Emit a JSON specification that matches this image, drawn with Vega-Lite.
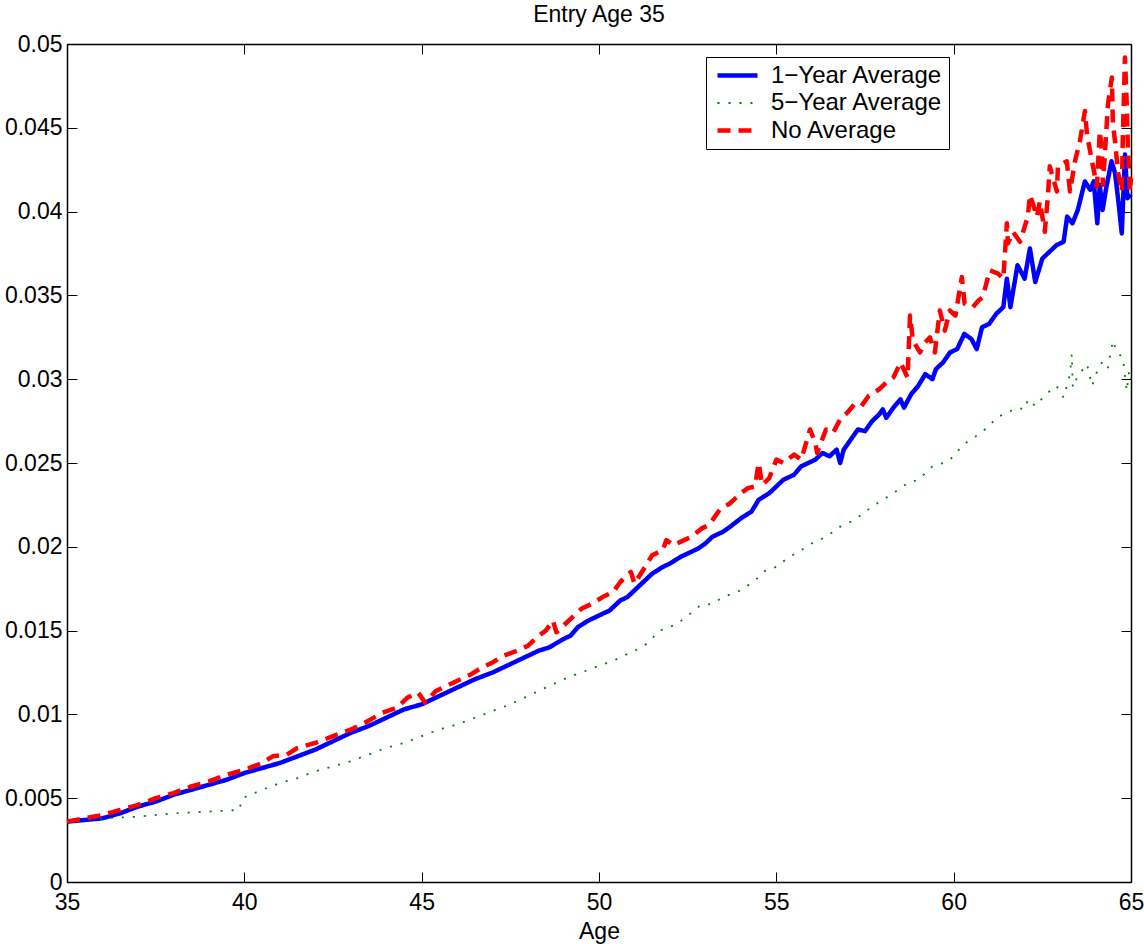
{
  "$schema": "https://vega.github.io/schema/vega-lite/v6.json",
  "width": 1064,
  "height": 838,
  "autosize": {"type": "none"},
  "padding": {"left": 67, "top": 44, "right": 13, "bottom": 62},
  "background": "white",
  "title": {"text": "Entry Age 35", "fontSize": 23, "font": "Liberation Sans", "fontWeight": "normal", "color": "black", "offset": 6, "anchor": "middle"},
  "config": {
    "view": {"stroke": null},
    "font": "Liberation Sans",
    "axis": {
      "domainColor": "black", "domainWidth": 1.5, "tickColor": "black", "tickWidth": 1, "tickSize": -10,
      "labelColor": "black", "labelFontSize": 23, "labelFont": "Liberation Sans", "labelPadding": 10,
      "titleColor": "black", "titleFontSize": 23, "titleFont": "Liberation Sans", "titleFontWeight": "normal",
      "grid": false, "labelFlush": false, "labelOverlap": false
    }
  },
  "data": {"values": [
    {"age":35.0,"series":"1−Year Average","rate":0.0036},
    {"age":35.5,"series":"1−Year Average","rate":0.0037},
    {"age":36.0,"series":"1−Year Average","rate":0.0038},
    {"age":36.5,"series":"1−Year Average","rate":0.0041},
    {"age":37.0,"series":"1−Year Average","rate":0.0045},
    {"age":37.5,"series":"1−Year Average","rate":0.0048},
    {"age":38.0,"series":"1−Year Average","rate":0.0052},
    {"age":38.5,"series":"1−Year Average","rate":0.0055},
    {"age":39.0,"series":"1−Year Average","rate":0.0058},
    {"age":39.5,"series":"1−Year Average","rate":0.0061},
    {"age":40.0,"series":"1−Year Average","rate":0.0065},
    {"age":40.5,"series":"1−Year Average","rate":0.0068},
    {"age":41.0,"series":"1−Year Average","rate":0.0071},
    {"age":41.5,"series":"1−Year Average","rate":0.0075},
    {"age":42.0,"series":"1−Year Average","rate":0.0079},
    {"age":42.5,"series":"1−Year Average","rate":0.0084},
    {"age":43.0,"series":"1−Year Average","rate":0.0089},
    {"age":43.5,"series":"1−Year Average","rate":0.0093},
    {"age":44.0,"series":"1−Year Average","rate":0.0098},
    {"age":44.5,"series":"1−Year Average","rate":0.0103},
    {"age":45.0,"series":"1−Year Average","rate":0.0106},
    {"age":45.5,"series":"1−Year Average","rate":0.0111},
    {"age":46.0,"series":"1−Year Average","rate":0.0116},
    {"age":46.5,"series":"1−Year Average","rate":0.0121},
    {"age":47.0,"series":"1−Year Average","rate":0.0125},
    {"age":47.5,"series":"1−Year Average","rate":0.0130},
    {"age":48.0,"series":"1−Year Average","rate":0.0135},
    {"age":48.3,"series":"1−Year Average","rate":0.0138},
    {"age":48.6,"series":"1−Year Average","rate":0.0140},
    {"age":49.0,"series":"1−Year Average","rate":0.0145},
    {"age":49.2,"series":"1−Year Average","rate":0.0147},
    {"age":49.4,"series":"1−Year Average","rate":0.0152},
    {"age":49.7,"series":"1−Year Average","rate":0.0156},
    {"age":50.0,"series":"1−Year Average","rate":0.0159},
    {"age":50.3,"series":"1−Year Average","rate":0.0162},
    {"age":50.6,"series":"1−Year Average","rate":0.0168},
    {"age":50.8,"series":"1−Year Average","rate":0.0170},
    {"age":51.0,"series":"1−Year Average","rate":0.0174},
    {"age":51.3,"series":"1−Year Average","rate":0.0180},
    {"age":51.5,"series":"1−Year Average","rate":0.0184},
    {"age":51.8,"series":"1−Year Average","rate":0.0188},
    {"age":52.0,"series":"1−Year Average","rate":0.0190},
    {"age":52.3,"series":"1−Year Average","rate":0.0194},
    {"age":52.5,"series":"1−Year Average","rate":0.0196},
    {"age":52.8,"series":"1−Year Average","rate":0.0199},
    {"age":53.0,"series":"1−Year Average","rate":0.0202},
    {"age":53.2,"series":"1−Year Average","rate":0.0206},
    {"age":53.5,"series":"1−Year Average","rate":0.0209},
    {"age":53.7,"series":"1−Year Average","rate":0.0212},
    {"age":54.0,"series":"1−Year Average","rate":0.0217},
    {"age":54.3,"series":"1−Year Average","rate":0.0221},
    {"age":54.5,"series":"1−Year Average","rate":0.0228},
    {"age":54.8,"series":"1−Year Average","rate":0.0232},
    {"age":55.0,"series":"1−Year Average","rate":0.0236},
    {"age":55.2,"series":"1−Year Average","rate":0.0240},
    {"age":55.5,"series":"1−Year Average","rate":0.0243},
    {"age":55.7,"series":"1−Year Average","rate":0.0248},
    {"age":55.9,"series":"1−Year Average","rate":0.0250},
    {"age":56.1,"series":"1−Year Average","rate":0.0252},
    {"age":56.3,"series":"1−Year Average","rate":0.0256},
    {"age":56.5,"series":"1−Year Average","rate":0.0254},
    {"age":56.7,"series":"1−Year Average","rate":0.0258},
    {"age":56.8,"series":"1−Year Average","rate":0.0250},
    {"age":56.9,"series":"1−Year Average","rate":0.0258},
    {"age":57.1,"series":"1−Year Average","rate":0.0264},
    {"age":57.3,"series":"1−Year Average","rate":0.0270},
    {"age":57.5,"series":"1−Year Average","rate":0.0269},
    {"age":57.7,"series":"1−Year Average","rate":0.0275},
    {"age":57.9,"series":"1−Year Average","rate":0.0279},
    {"age":58.0,"series":"1−Year Average","rate":0.0282},
    {"age":58.1,"series":"1−Year Average","rate":0.0277},
    {"age":58.3,"series":"1−Year Average","rate":0.0283},
    {"age":58.5,"series":"1−Year Average","rate":0.0288},
    {"age":58.6,"series":"1−Year Average","rate":0.0283},
    {"age":58.8,"series":"1−Year Average","rate":0.0291},
    {"age":59.0,"series":"1−Year Average","rate":0.0296},
    {"age":59.2,"series":"1−Year Average","rate":0.0303},
    {"age":59.4,"series":"1−Year Average","rate":0.0300},
    {"age":59.5,"series":"1−Year Average","rate":0.0306},
    {"age":59.7,"series":"1−Year Average","rate":0.0310},
    {"age":59.9,"series":"1−Year Average","rate":0.0316},
    {"age":60.1,"series":"1−Year Average","rate":0.0318},
    {"age":60.3,"series":"1−Year Average","rate":0.0327},
    {"age":60.5,"series":"1−Year Average","rate":0.0324},
    {"age":60.65,"series":"1−Year Average","rate":0.0318},
    {"age":60.8,"series":"1−Year Average","rate":0.0331},
    {"age":61.0,"series":"1−Year Average","rate":0.0333},
    {"age":61.2,"series":"1−Year Average","rate":0.0339},
    {"age":61.4,"series":"1−Year Average","rate":0.0343},
    {"age":61.5,"series":"1−Year Average","rate":0.0360},
    {"age":61.6,"series":"1−Year Average","rate":0.0343},
    {"age":61.8,"series":"1−Year Average","rate":0.0368},
    {"age":62.0,"series":"1−Year Average","rate":0.0360},
    {"age":62.15,"series":"1−Year Average","rate":0.0378},
    {"age":62.3,"series":"1−Year Average","rate":0.0358},
    {"age":62.5,"series":"1−Year Average","rate":0.0372},
    {"age":62.7,"series":"1−Year Average","rate":0.0376},
    {"age":62.9,"series":"1−Year Average","rate":0.0380},
    {"age":63.1,"series":"1−Year Average","rate":0.0382},
    {"age":63.2,"series":"1−Year Average","rate":0.0397},
    {"age":63.35,"series":"1−Year Average","rate":0.0393},
    {"age":63.5,"series":"1−Year Average","rate":0.0401},
    {"age":63.7,"series":"1−Year Average","rate":0.0418},
    {"age":63.85,"series":"1−Year Average","rate":0.0413},
    {"age":63.95,"series":"1−Year Average","rate":0.0418},
    {"age":64.05,"series":"1−Year Average","rate":0.0393},
    {"age":64.12,"series":"1−Year Average","rate":0.0416},
    {"age":64.2,"series":"1−Year Average","rate":0.0401},
    {"age":64.3,"series":"1−Year Average","rate":0.0414},
    {"age":64.45,"series":"1−Year Average","rate":0.0430},
    {"age":64.55,"series":"1−Year Average","rate":0.0423},
    {"age":64.65,"series":"1−Year Average","rate":0.0405},
    {"age":64.74,"series":"1−Year Average","rate":0.0387},
    {"age":64.83,"series":"1−Year Average","rate":0.0434},
    {"age":64.9,"series":"1−Year Average","rate":0.0408},
    {"age":65.0,"series":"1−Year Average","rate":0.0410},

    {"age":35.0,"series":"5−Year Average","rate":0.0036},
    {"age":35.5,"series":"5−Year Average","rate":0.0037},
    {"age":36.0,"series":"5−Year Average","rate":0.0038},
    {"age":37.0,"series":"5−Year Average","rate":0.0039},
    {"age":38.0,"series":"5−Year Average","rate":0.0041},
    {"age":39.0,"series":"5−Year Average","rate":0.0042},
    {"age":39.85,"series":"5−Year Average","rate":0.0043},
    {"age":39.95,"series":"5−Year Average","rate":0.0050},
    {"age":40.5,"series":"5−Year Average","rate":0.0055},
    {"age":41.0,"series":"5−Year Average","rate":0.0059},
    {"age":41.5,"series":"5−Year Average","rate":0.0062},
    {"age":42.0,"series":"5−Year Average","rate":0.0066},
    {"age":42.5,"series":"5−Year Average","rate":0.0069},
    {"age":43.0,"series":"5−Year Average","rate":0.0072},
    {"age":43.5,"series":"5−Year Average","rate":0.0076},
    {"age":44.0,"series":"5−Year Average","rate":0.0080},
    {"age":44.5,"series":"5−Year Average","rate":0.0083},
    {"age":45.0,"series":"5−Year Average","rate":0.0087},
    {"age":45.5,"series":"5−Year Average","rate":0.0091},
    {"age":46.0,"series":"5−Year Average","rate":0.0094},
    {"age":46.5,"series":"5−Year Average","rate":0.0098},
    {"age":47.0,"series":"5−Year Average","rate":0.0102},
    {"age":47.5,"series":"5−Year Average","rate":0.0106},
    {"age":48.0,"series":"5−Year Average","rate":0.0111},
    {"age":48.5,"series":"5−Year Average","rate":0.0116},
    {"age":49.0,"series":"5−Year Average","rate":0.0121},
    {"age":49.5,"series":"5−Year Average","rate":0.0125},
    {"age":50.0,"series":"5−Year Average","rate":0.0129},
    {"age":50.4,"series":"5−Year Average","rate":0.0132},
    {"age":50.8,"series":"5−Year Average","rate":0.0136},
    {"age":51.2,"series":"5−Year Average","rate":0.0140},
    {"age":51.4,"series":"5−Year Average","rate":0.0143},
    {"age":51.7,"series":"5−Year Average","rate":0.0150},
    {"age":52.0,"series":"5−Year Average","rate":0.0152},
    {"age":52.4,"series":"5−Year Average","rate":0.0157},
    {"age":52.85,"series":"5−Year Average","rate":0.0165},
    {"age":53.2,"series":"5−Year Average","rate":0.0166},
    {"age":53.5,"series":"5−Year Average","rate":0.0170},
    {"age":54.0,"series":"5−Year Average","rate":0.0174},
    {"age":54.4,"series":"5−Year Average","rate":0.0180},
    {"age":54.7,"series":"5−Year Average","rate":0.0186},
    {"age":55.0,"series":"5−Year Average","rate":0.0188},
    {"age":55.3,"series":"5−Year Average","rate":0.0193},
    {"age":55.7,"series":"5−Year Average","rate":0.0198},
    {"age":56.0,"series":"5−Year Average","rate":0.0202},
    {"age":56.4,"series":"5−Year Average","rate":0.0206},
    {"age":56.8,"series":"5−Year Average","rate":0.0212},
    {"age":57.1,"series":"5−Year Average","rate":0.0215},
    {"age":57.4,"series":"5−Year Average","rate":0.0219},
    {"age":57.7,"series":"5−Year Average","rate":0.0224},
    {"age":58.0,"series":"5−Year Average","rate":0.0228},
    {"age":58.3,"series":"5−Year Average","rate":0.0232},
    {"age":58.7,"series":"5−Year Average","rate":0.0238},
    {"age":59.0,"series":"5−Year Average","rate":0.0240},
    {"age":59.4,"series":"5−Year Average","rate":0.0248},
    {"age":59.7,"series":"5−Year Average","rate":0.0250},
    {"age":59.9,"series":"5−Year Average","rate":0.0252},
    {"age":60.1,"series":"5−Year Average","rate":0.0257},
    {"age":60.4,"series":"5−Year Average","rate":0.0263},
    {"age":60.7,"series":"5−Year Average","rate":0.0267},
    {"age":61.0,"series":"5−Year Average","rate":0.0272},
    {"age":61.2,"series":"5−Year Average","rate":0.0277},
    {"age":61.5,"series":"5−Year Average","rate":0.0280},
    {"age":61.8,"series":"5−Year Average","rate":0.0283},
    {"age":62.0,"series":"5−Year Average","rate":0.0282},
    {"age":62.1,"series":"5−Year Average","rate":0.0288},
    {"age":62.3,"series":"5−Year Average","rate":0.0284},
    {"age":62.6,"series":"5−Year Average","rate":0.0291},
    {"age":62.9,"series":"5−Year Average","rate":0.0296},
    {"age":63.1,"series":"5−Year Average","rate":0.0289},
    {"age":63.28,"series":"5−Year Average","rate":0.0303},
    {"age":63.33,"series":"5−Year Average","rate":0.0315},
    {"age":63.36,"series":"5−Year Average","rate":0.0295},
    {"age":63.5,"series":"5−Year Average","rate":0.0302},
    {"age":63.76,"series":"5−Year Average","rate":0.0309},
    {"age":63.9,"series":"5−Year Average","rate":0.0296},
    {"age":64.05,"series":"5−Year Average","rate":0.0305},
    {"age":64.21,"series":"5−Year Average","rate":0.0311},
    {"age":64.35,"series":"5−Year Average","rate":0.0307},
    {"age":64.49,"series":"5−Year Average","rate":0.0323},
    {"age":64.6,"series":"5−Year Average","rate":0.0316},
    {"age":64.77,"series":"5−Year Average","rate":0.0313},
    {"age":64.88,"series":"5−Year Average","rate":0.0293},
    {"age":64.95,"series":"5−Year Average","rate":0.0305},
    {"age":65.0,"series":"5−Year Average","rate":0.0300},

    {"age":35.0,"series":"No Average","rate":0.0036},
    {"age":35.5,"series":"No Average","rate":0.0038},
    {"age":36.0,"series":"No Average","rate":0.0040},
    {"age":36.5,"series":"No Average","rate":0.0043},
    {"age":37.0,"series":"No Average","rate":0.0046},
    {"age":37.5,"series":"No Average","rate":0.0050},
    {"age":38.0,"series":"No Average","rate":0.0053},
    {"age":38.5,"series":"No Average","rate":0.0057},
    {"age":39.0,"series":"No Average","rate":0.0060},
    {"age":39.5,"series":"No Average","rate":0.0064},
    {"age":40.0,"series":"No Average","rate":0.0067},
    {"age":40.5,"series":"No Average","rate":0.0071},
    {"age":40.8,"series":"No Average","rate":0.0075},
    {"age":41.2,"series":"No Average","rate":0.0076},
    {"age":41.5,"series":"No Average","rate":0.0080},
    {"age":42.0,"series":"No Average","rate":0.0083},
    {"age":42.5,"series":"No Average","rate":0.0087},
    {"age":43.0,"series":"No Average","rate":0.0091},
    {"age":43.4,"series":"No Average","rate":0.0095},
    {"age":43.9,"series":"No Average","rate":0.0101},
    {"age":44.3,"series":"No Average","rate":0.0104},
    {"age":44.6,"series":"No Average","rate":0.0110},
    {"age":44.9,"series":"No Average","rate":0.0113},
    {"age":45.1,"series":"No Average","rate":0.0107},
    {"age":45.4,"series":"No Average","rate":0.0114},
    {"age":45.7,"series":"No Average","rate":0.0117},
    {"age":46.1,"series":"No Average","rate":0.0121},
    {"age":46.4,"series":"No Average","rate":0.0124},
    {"age":46.7,"series":"No Average","rate":0.0128},
    {"age":47.0,"series":"No Average","rate":0.0131},
    {"age":47.3,"series":"No Average","rate":0.0135},
    {"age":47.7,"series":"No Average","rate":0.0138},
    {"age":48.0,"series":"No Average","rate":0.0141},
    {"age":48.3,"series":"No Average","rate":0.0147},
    {"age":48.5,"series":"No Average","rate":0.0150},
    {"age":48.7,"series":"No Average","rate":0.0156},
    {"age":48.8,"series":"No Average","rate":0.0149},
    {"age":49.0,"series":"No Average","rate":0.0153},
    {"age":49.2,"series":"No Average","rate":0.0157},
    {"age":49.5,"series":"No Average","rate":0.0163},
    {"age":49.8,"series":"No Average","rate":0.0166},
    {"age":50.1,"series":"No Average","rate":0.0170},
    {"age":50.4,"series":"No Average","rate":0.0173},
    {"age":50.6,"series":"No Average","rate":0.0179},
    {"age":50.9,"series":"No Average","rate":0.0185},
    {"age":51.0,"series":"No Average","rate":0.0178},
    {"age":51.3,"series":"No Average","rate":0.0188},
    {"age":51.5,"series":"No Average","rate":0.0195},
    {"age":51.8,"series":"No Average","rate":0.0198},
    {"age":51.9,"series":"No Average","rate":0.0204},
    {"age":52.1,"series":"No Average","rate":0.0201},
    {"age":52.4,"series":"No Average","rate":0.0204},
    {"age":52.6,"series":"No Average","rate":0.0206},
    {"age":52.9,"series":"No Average","rate":0.0211},
    {"age":53.1,"series":"No Average","rate":0.0213},
    {"age":53.4,"series":"No Average","rate":0.0222},
    {"age":53.7,"series":"No Average","rate":0.0226},
    {"age":54.0,"series":"No Average","rate":0.0232},
    {"age":54.2,"series":"No Average","rate":0.0235},
    {"age":54.4,"series":"No Average","rate":0.0236},
    {"age":54.5,"series":"No Average","rate":0.0250},
    {"age":54.6,"series":"No Average","rate":0.0237},
    {"age":54.8,"series":"No Average","rate":0.0241},
    {"age":55.0,"series":"No Average","rate":0.0252},
    {"age":55.2,"series":"No Average","rate":0.0250},
    {"age":55.5,"series":"No Average","rate":0.0255},
    {"age":55.7,"series":"No Average","rate":0.0252},
    {"age":55.95,"series":"No Average","rate":0.0270},
    {"age":56.1,"series":"No Average","rate":0.0262},
    {"age":56.15,"series":"No Average","rate":0.0256},
    {"age":56.4,"series":"No Average","rate":0.0270},
    {"age":56.6,"series":"No Average","rate":0.0268},
    {"age":56.8,"series":"No Average","rate":0.0276},
    {"age":57.0,"series":"No Average","rate":0.0280},
    {"age":57.2,"series":"No Average","rate":0.0285},
    {"age":57.4,"series":"No Average","rate":0.0284},
    {"age":57.6,"series":"No Average","rate":0.0290},
    {"age":57.9,"series":"No Average","rate":0.0294},
    {"age":58.1,"series":"No Average","rate":0.0298},
    {"age":58.3,"series":"No Average","rate":0.0301},
    {"age":58.5,"series":"No Average","rate":0.0310},
    {"age":58.7,"series":"No Average","rate":0.0301},
    {"age":58.77,"series":"No Average","rate":0.0338},
    {"age":58.85,"series":"No Average","rate":0.0323},
    {"age":59.05,"series":"No Average","rate":0.0316},
    {"age":59.2,"series":"No Average","rate":0.0322},
    {"age":59.33,"series":"No Average","rate":0.0325},
    {"age":59.47,"series":"No Average","rate":0.0316},
    {"age":59.61,"series":"No Average","rate":0.0341},
    {"age":59.75,"series":"No Average","rate":0.0329},
    {"age":59.89,"series":"No Average","rate":0.0341},
    {"age":60.05,"series":"No Average","rate":0.0338},
    {"age":60.23,"series":"No Average","rate":0.0361},
    {"age":60.31,"series":"No Average","rate":0.0345},
    {"age":60.54,"series":"No Average","rate":0.0343},
    {"age":60.7,"series":"No Average","rate":0.0347},
    {"age":60.82,"series":"No Average","rate":0.0349},
    {"age":61.02,"series":"No Average","rate":0.0365},
    {"age":61.25,"series":"No Average","rate":0.0363},
    {"age":61.4,"series":"No Average","rate":0.0360},
    {"age":61.5,"series":"No Average","rate":0.0393},
    {"age":61.53,"series":"No Average","rate":0.0381},
    {"age":61.67,"series":"No Average","rate":0.0388},
    {"age":61.87,"series":"No Average","rate":0.0382},
    {"age":62.09,"series":"No Average","rate":0.0397},
    {"age":62.15,"series":"No Average","rate":0.0410},
    {"age":62.35,"series":"No Average","rate":0.0397},
    {"age":62.43,"series":"No Average","rate":0.0406},
    {"age":62.57,"series":"No Average","rate":0.0388},
    {"age":62.66,"series":"No Average","rate":0.0410},
    {"age":62.71,"series":"No Average","rate":0.0427},
    {"age":62.91,"series":"No Average","rate":0.0412},
    {"age":62.94,"series":"No Average","rate":0.0427},
    {"age":63.19,"series":"No Average","rate":0.0430},
    {"age":63.28,"series":"No Average","rate":0.0412},
    {"age":63.42,"series":"No Average","rate":0.0430},
    {"age":63.56,"series":"No Average","rate":0.0442},
    {"age":63.7,"series":"No Average","rate":0.0460},
    {"age":63.76,"series":"No Average","rate":0.0446},
    {"age":63.9,"series":"No Average","rate":0.0430},
    {"age":64.04,"series":"No Average","rate":0.0415},
    {"age":64.12,"series":"No Average","rate":0.0448},
    {"age":64.18,"series":"No Average","rate":0.0436},
    {"age":64.21,"series":"No Average","rate":0.0416},
    {"age":64.35,"series":"No Average","rate":0.0464},
    {"age":64.46,"series":"No Average","rate":0.0480},
    {"age":64.49,"series":"No Average","rate":0.0452},
    {"age":64.55,"series":"No Average","rate":0.0442},
    {"age":64.63,"series":"No Average","rate":0.0424},
    {"age":64.74,"series":"No Average","rate":0.0412},
    {"age":64.77,"series":"No Average","rate":0.0445},
    {"age":64.83,"series":"No Average","rate":0.0492},
    {"age":64.88,"series":"No Average","rate":0.0464},
    {"age":64.91,"series":"No Average","rate":0.0440},
    {"age":64.97,"series":"No Average","rate":0.0412},
    {"age":65.0,"series":"No Average","rate":0.0420}
  ]},
  "layer": [
    {
      "mark": {"type": "line", "strokeJoin": "round", "strokeCap": "butt"},
      "encoding": {
        "x": {"field": "age", "type": "quantitative", "scale": {"domain": [35, 65], "nice": false, "zero": false},
              "axis": {"orient": "bottom", "title": "Age", "values": [35, 40, 45, 50, 55, 60, 65], "labelPadding": 19, "titlePadding": 6}},
        "y": {"field": "rate", "type": "quantitative", "scale": {"domain": [0, 0.05], "nice": false},
              "axis": {"orient": "left", "title": null, "values": [0, 0.005, 0.01, 0.015, 0.02, 0.025, 0.03, 0.035, 0.04, 0.045, 0.05], "format": ".3~f", "labelPadding": 15}},
        "color": {"field": "series", "type": "nominal",
                  "scale": {"domain": ["1−Year Average", "5−Year Average", "No Average"], "range": ["#0000ff", "#008000", "#ff0000"]},
                  "legend": {"orient": "none", "legendX": 639, "legendY": 13, "title": null, "fillColor": "white", "strokeColor": "black",
                             "padding": 6, "labelFontSize": 24, "labelFont": "Liberation Sans", "labelColor": "black", "labelLimit": 400,
                             "symbolType": "M-2,0H2", "symbolSize": 400, "symbolOffset": 13, "labelOffset": 21, "rowPadding": 3}},
        "strokeDash": {"field": "series", "type": "nominal",
                       "scale": {"domain": ["1−Year Average", "5−Year Average", "No Average"], "range": [[1, 0], [2, 9], [13, 8]]},
                       "legend": {"orient": "none", "legendX": 639, "legendY": 13, "title": null}},
        "strokeWidth": {"field": "series", "type": "nominal",
                        "scale": {"type": "ordinal", "domain": ["1−Year Average", "5−Year Average", "No Average"], "range": [4.5, 1.8, 4.5]},
                        "legend": {"orient": "none", "legendX": 639, "legendY": 13, "title": null}}
      }
    },
    {
      "mark": {"type": "line", "opacity": 0},
      "encoding": {
        "x": {"field": "age", "type": "quantitative", "axis": {"orient": "top", "labels": false, "title": null, "values": [35, 40, 45, 50, 55, 60, 65]}},
        "y": {"field": "rate", "type": "quantitative", "axis": {"orient": "right", "labels": false, "title": null, "values": [0, 0.005, 0.01, 0.015, 0.02, 0.025, 0.03, 0.035, 0.04, 0.045, 0.05]}}
      }
    }
  ],
  "resolve": {"axis": {"x": "independent", "y": "independent"}}
}
